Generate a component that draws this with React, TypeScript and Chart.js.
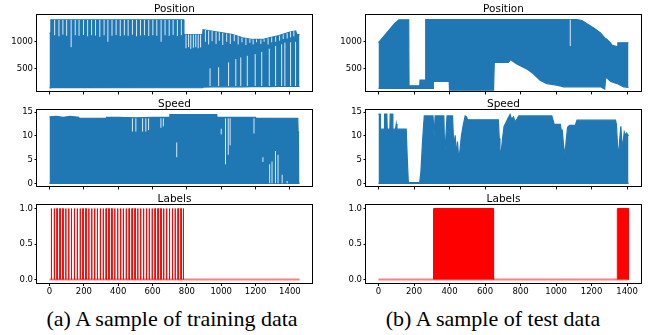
import React, { useEffect, useRef } from "react";
import { Chart, registerables } from "chart.js";

Chart.register(...registerables);

// ---------------- shared ----------------
const xTickValues = [0, 200, 400, 600, 800, 1000, 1200, 1400];
const trainLastIndex = 1456;
const testLastIndex = 1408;
const positionTicks = [500, 1000];
const speedTicks = [0, 5, 10, 15];
const labelTicks = [0, 0.5, 1];

// ---------------- (a) training sample ----------------
// Position: envelope (max / min) of the dense trace
const trainPosX = [0, 6, 8, 110, 112, 160, 162, 781, 783, 892, 894, 951, 1009, 1067, 1125, 1183, 1241, 1280, 1337, 1395, 1434, 1440, 1456];
const trainPosMax = [1160, 1160, 1404, 1404, 1404, 1404, 1404, 1404, 1133, 1133, 1223, 1193, 1163, 1133, 1072, 1042, 1042, 1072, 1114, 1175, 1199, 1133, 1133];
const trainPosMin = [150, 150, 155, 155, 155, 155, 155, 152, 152, 152, 165, 170, 170, 170, 170, 172, 172, 172, 175, 175, 175, 175, 175];
// Position: places the trace does not reach (white gaps inside the band)
const trainPosGapX = [30, 55, 78, 100, 126, 150, 172, 198, 222, 245, 268, 293, 318, 340, 364, 388, 412, 436, 458, 483, 507, 530, 553, 578, 602, 625, 650, 673, 697, 720, 745, 768,
  795, 810, 823, 838, 852, 866, 880,
  908, 927, 947, 970, 989, 1009, 1032, 1053, 1076, 1099, 1121, 1144, 1167, 1186, 1206, 1231, 1250, 1273, 1294, 1317, 1340, 1361, 1384, 1404, 1423,
  935, 985, 1043, 1085, 1114, 1152, 1198, 1236, 1280, 1317, 1352, 1371, 1404, 1433];
const trainPosGapLo = [1120, 1100, 1130, 1110, 900, 1120, 1110, 1125, 1100, 1120, 1115, 1090, 1120, 1000, 1110, 1125, 1105, 1120, 1110, 1130, 1100, 1115, 1120, 1105, 1120, 1110, 1000, 1120, 1110, 1125, 1105, 1120,
  880, 900, 870, 890, 900, 880, 895,
  1000, 950, 1010, 960, 1020, 940, 1000, 960, 1010, 950, 990, 940, 980, 950, 990, 960, 1000, 950, 990, 1000, 1020, 1050, 1060, 1080, 1100,
  185, 185, 185, 185, 185, 185, 185, 185, 185, 185, 185, 185, 185, 185];
const trainPosGapHi = [1404, 1404, 1404, 1404, 1404, 1404, 1404, 1404, 1404, 1404, 1404, 1404, 1404, 1404, 1404, 1404, 1404, 1404, 1404, 1404, 1404, 1404, 1404, 1404, 1404, 1404, 1404, 1404, 1404, 1404, 1404, 1404,
  1133, 1133, 1133, 1133, 1133, 1133, 1133,
  1216, 1205, 1195, 1183, 1173, 1163, 1151, 1139, 1130, 1100, 1075, 1062, 1050, 1042, 1042, 1042, 1045, 1065, 1080, 1095, 1110, 1135, 1160, 1183, 1195,
  512, 530, 620, 680, 711, 740, 771, 813, 873, 922, 952, 982, 990, 1000];

// Speed: upper envelope of the dense trace (lower bound is 0)
const trainSpdX = [0, 40, 80, 120, 170, 172, 230, 330, 332, 400, 500, 600, 699, 701, 800, 900, 974, 976, 1050, 1120, 1199, 1201, 1300, 1400, 1446, 1448, 1454, 1456];
const trainSpdMax = [14.0, 14.1, 13.9, 14.1, 13.9, 13.7, 13.7, 13.7, 13.9, 13.9, 13.8, 13.9, 13.9, 14.5, 14.5, 14.5, 14.5, 13.9, 13.9, 13.9, 13.9, 13.7, 13.7, 13.7, 13.7, 10.8, 10.8, 10.8];
const trainSpdGapX = [483, 503, 542, 561, 577, 649, 663, 741, 1000, 1025, 1041, 1052, 1191, 1243, 1282, 1296, 1316, 1331, 1355, 1384];
const trainSpdGapLo = [10.9, 10.9, 10.9, 10.9, 11.2, 11.7, 12.0, 5.5, 10.3, 4.0, 6.0, 8.0, 10.5, 4.5, 0, 0, 0, 0, 0, 0];
const trainSpdGapHi = [13.7, 13.7, 13.7, 13.7, 13.7, 13.7, 13.7, 8.6, 11.5, 13.7, 13.7, 13.7, 13.7, 5.5, 4.0, 4.6, 6.8, 6.0, 1.8, 0.5];

// Labels: intervals where the label is 1
const trainLabelOn = [10, 27, 43, 60, 77, 94, 111, 127, 144, 161, 178, 194, 211, 228, 245, 262, 278, 295, 312, 329, 345, 362, 379, 396, 413, 429, 446, 463, 480, 497, 513, 530, 547, 564, 580, 597, 614, 631, 648, 664, 681, 698, 715, 731, 748, 765, 779];
const trainLabelOff = [12, 29, 45, 62, 79, 96, 113, 129, 146, 163, 180, 196, 213, 230, 247, 264, 280, 297, 314, 331, 347, 364, 381, 398, 415, 431, 448, 465, 482, 499, 515, 532, 549, 566, 582, 599, 616, 633, 650, 666, 683, 700, 717, 733, 750, 767, 781];

// ---------------- (b) test sample ----------------
const testPosX = [0, 43, 90, 115, 170, 172, 232, 234, 264, 266, 307, 309, 398, 400, 648, 652, 731, 745, 779, 835, 873, 910, 948, 986, 1024, 1042, 1118, 1146, 1174, 1212, 1250, 1274, 1280, 1287, 1306, 1316, 1344, 1348, 1382, 1408];
const testPosMax = [982, 1151, 1331, 1404, 1404, 187, 187, 295, 295, 1406, 1406, 1406, 1406, 1406, 1406, 1406, 1406, 1406, 1406, 1406, 1406, 1406, 1406, 1406, 1406, 1406, 1406, 1392, 1331, 1253, 1163, 1070, 1060, 1042, 980, 934, 910, 982, 982, 982];
const testPosMin = [139, 139, 139, 139, 139, 139, 139, 139, 139, 139, 139, 271, 271, 108, 108, 620, 620, 669, 590, 500, 410, 289, 229, 211, 187, 169, 169, 169, 169, 169, 169, 127, 349, 330, 271, 260, 229, 225, 169, 157];
const testPosGapX = [1080];
const testPosGapLo = [920];
const testPosGapHi = [1406];

const testSpdX = [0, 9, 11, 32, 34, 47, 49, 64, 66, 79, 81, 96, 100, 104, 156, 162, 168, 232, 239, 247, 254, 258, 307, 313, 319, 368, 373, 379, 386, 417, 424, 432, 439, 445, 452, 460, 467, 477, 488, 496, 501, 675, 680, 684, 692, 699, 707, 718, 731, 741, 750, 760, 769, 778, 790, 976, 982, 990, 1024, 1029, 1035, 1042, 1050, 1057, 1065, 1076, 1108, 1118, 1335, 1340, 1346, 1352, 1357, 1365, 1370, 1376, 1384, 1391, 1397, 1408];
const testSpdMax = [14.6, 14.6, 11.4, 11.4, 14.6, 14.6, 11.4, 11.4, 14.6, 14.6, 11.4, 11.4, 12.5, 11.4, 11.4, 5.3, 0.15, 0.15, 2.5, 8.1, 12.2, 14.2, 14.2, 9.8, 14.2, 14.2, 6.0, 9.5, 14.2, 14.2, 7.6, 10.1, 5.6, 8.8, 4.9, 7.4, 10.0, 12.2, 14.2, 14.0, 13.4, 13.4, 9.5, 6.7, 7.0, 9.5, 12.0, 12.8, 13.8, 14.5, 13.5, 14.0, 13.0, 13.4, 14.2, 14.2, 13.4, 12.4, 12.4, 11.2, 11.2, 8.0, 5.9, 9.0, 11.8, 12.2, 12.2, 13.3, 13.3, 12.4, 8.0, 5.6, 8.5, 12.0, 9.0, 8.0, 10.8, 10.0, 10.6, 10.0];

const testLabelOn = [310, 1345];
const testLabelOff = [648, 1407];

// ---------------- styling ----------------
const BLUE = "#1f77b4";
const TICK_FONT = { family: "'DejaVu Sans', sans-serif", size: 8.5 };
const YW = 34;
const PT = 8;
const PR = 6;

const pts = (xs: number[], ys: number[]) => xs.map((x, i) => ({ x, y: ys[i] }));
const gapPts = (xs: number[], lo: number[], hi: number[]) =>
  xs.flatMap((x, i) => [{ x, y: lo[i] }, { x, y: hi[i] }, { x, y: null as any }]);
const stepPts = (on: number[], off: number[]) =>
  on.flatMap((s, i) => [{ x: s, y: 0 }, { x: s, y: 1 }, { x: off[i], y: 1 }, { x: off[i], y: 0 }, { x: off[i], y: null as any }]);

const framePlugin = {
  id: "frame",
  afterDraw(chart: any) {
    const { ctx, chartArea: a } = chart;
    ctx.save();
    ctx.strokeStyle = "#000";
    ctx.lineWidth = 1;
    ctx.strokeRect(Math.round(a.left) - 0.5, Math.round(a.top) - 0.5, Math.round(a.right - a.left) + 1, Math.round(a.bottom - a.top) + 1);
    ctx.restore();
  },
};

function positionSets(x: number[], mx: number[], mn: number[], gx: number[], glo: number[], ghi: number[]) {
  return [
    { data: gapPts(gx, glo, ghi), borderColor: "rgba(255,255,255,0.85)", borderWidth: 1, spanGaps: false, fill: false, order: 0 },
    { data: pts(x, mn), borderColor: BLUE, borderWidth: 1.2, fill: false, order: 2 },
    { data: pts(x, mx), borderColor: BLUE, borderWidth: 1.2, backgroundColor: BLUE, fill: 1, order: 1 },
  ];
}

function speedSets(x: number[], mx: number[], gx?: number[], glo?: number[], ghi?: number[]) {
  const sets: any[] = [];
  if (gx) sets.push({ data: gapPts(gx, glo!, ghi!), borderColor: "rgba(255,255,255,0.85)", borderWidth: 1, spanGaps: false, fill: false, order: 0 });
  sets.push({ data: pts(x, mx), borderColor: BLUE, borderWidth: 1.2, backgroundColor: BLUE, fill: "origin", order: 1 });
  sets.push({ data: [{ x: 0, y: 0 }, { x: x[x.length - 1], y: 0 }], borderColor: BLUE, borderWidth: 1.5, fill: false, order: 2 });
  return sets;
}

function labelSets(on: number[], off: number[], last: number) {
  return [
    { data: stepPts(on, off), borderColor: "#ff0000", borderWidth: 1, backgroundColor: "#ff0000", fill: "origin", spanGaps: false, order: 0 },
    { data: [{ x: 0, y: 0 }, { x: last, y: 0 }], borderColor: "rgba(255,0,0,0.5)", borderWidth: 2, fill: false, order: 1 },
  ];
}

type Spec = {
  left: number; top: number; width: number; height: number;
  last: number; yMin: number; yMax: number; yTicks: number[]; yFmt: (v: number) => string;
  xLabels: boolean; datasets: any[];
};

function Panel({ spec }: { spec: Spec }) {
  const ref = useRef<HTMLCanvasElement>(null);
  const XH = spec.xLabels ? 16 : 5;
  const cw = YW + spec.width + PR;
  const ch = PT + spec.height + XH;
  useEffect(() => {
    const chart = new Chart(ref.current as HTMLCanvasElement, {
      type: "line",
      data: { datasets: spec.datasets },
      options: {
        animation: false,
        responsive: false,
        devicePixelRatio: 1,
        layout: { padding: { top: PT, right: PR, left: 0, bottom: 0 } },
        plugins: { legend: { display: false }, tooltip: { enabled: false } },
        elements: { point: { radius: 0 }, line: { tension: 0 } },
        scales: {
          x: {
            type: "linear",
            min: -0.05 * spec.last,
            max: 1.05 * spec.last,
            afterBuildTicks: (s: any) => { s.ticks = xTickValues.map((v) => ({ value: v })); },
            afterFit: (s: any) => { s.height = XH; },
            ticks: { display: spec.xLabels, font: TICK_FONT, color: "#000", padding: 1, maxRotation: 0, autoSkip: false, callback: (v: any) => String(Math.round(Number(v))) },
            grid: { drawOnChartArea: false, drawTicks: true, tickLength: 3, color: "#000" },
            border: { display: false },
          },
          y: {
            type: "linear",
            min: spec.yMin,
            max: spec.yMax,
            afterBuildTicks: (s: any) => { s.ticks = spec.yTicks.map((v) => ({ value: v })); },
            afterFit: (s: any) => { s.width = YW; },
            ticks: { font: TICK_FONT, color: "#000", padding: 1.5, callback: (v: any) => spec.yFmt(Number(v)) },
            grid: { drawOnChartArea: false, drawTicks: true, tickLength: 2.5, color: "#000" },
            border: { display: false },
          },
        },
      } as any,
      plugins: [framePlugin],
    });
    return () => chart.destroy();
  }, []);
  return (
    <canvas
      ref={ref}
      width={cw}
      height={ch}
      style={{ position: "absolute", left: spec.left - YW, top: spec.top - PT, width: cw, height: ch }}
    />
  );
}

const LEFT_A = 37;
const LEFT_B = 366;
const PW = 275;
const PH = 78;
const ROWS = [15, 110, 205];
const TITLES = ["Position", "Speed", "Labels"];

const intFmt = (v: number) => String(v);
const oneDec = (v: number) => v.toFixed(1);

export default function App() {
  const specs: Spec[] = [
    { left: LEFT_A, top: ROWS[0], width: PW, height: PH, last: trainLastIndex, yMin: 85, yMax: 1493, yTicks: positionTicks, yFmt: intFmt, xLabels: false,
      datasets: positionSets(trainPosX, trainPosMax, trainPosMin, trainPosGapX, trainPosGapLo, trainPosGapHi) },
    { left: LEFT_B, top: ROWS[0], width: PW, height: PH, last: testLastIndex, yMin: 85, yMax: 1493, yTicks: positionTicks, yFmt: intFmt, xLabels: false,
      datasets: positionSets(testPosX, testPosMax, testPosMin, testPosGapX, testPosGapLo, testPosGapHi) },
    { left: LEFT_A, top: ROWS[1], width: PW, height: PH, last: trainLastIndex, yMin: -0.65, yMax: 15.45, yTicks: speedTicks, yFmt: intFmt, xLabels: false,
      datasets: speedSets(trainSpdX, trainSpdMax, trainSpdGapX, trainSpdGapLo, trainSpdGapHi) },
    { left: LEFT_B, top: ROWS[1], width: PW, height: PH, last: testLastIndex, yMin: -0.65, yMax: 15.45, yTicks: speedTicks, yFmt: intFmt, xLabels: false,
      datasets: speedSets(testSpdX, testSpdMax) },
    { left: LEFT_A, top: ROWS[2], width: PW, height: PH, last: trainLastIndex, yMin: -0.05, yMax: 1.05, yTicks: labelTicks, yFmt: oneDec, xLabels: true,
      datasets: labelSets(trainLabelOn, trainLabelOff, trainLastIndex) },
    { left: LEFT_B, top: ROWS[2], width: PW, height: PH, last: testLastIndex, yMin: -0.05, yMax: 1.05, yTicks: labelTicks, yFmt: oneDec, xLabels: true,
      datasets: labelSets(testLabelOn, testLabelOff, testLastIndex) },
  ];
  const titleStyle = (left: number, top: number): React.CSSProperties => ({
    position: "absolute", left, top: top - 11.6, width: PW, textAlign: "center",
    fontFamily: "'DejaVu Sans', sans-serif", fontSize: 10.5, lineHeight: "10.5px", color: "#000", whiteSpace: "nowrap",
  });
  const capStyle = (center: number): React.CSSProperties => ({
    position: "absolute", left: center - 160, width: 320, textAlign: "center", top: 308, fontFamily: "'Liberation Serif', 'Times New Roman', serif",
    fontSize: 22, lineHeight: "22px", color: "#000", whiteSpace: "nowrap",
  });
  return (
    <div style={{ position: "fixed", left: 0, top: 0, width: 654, height: 335, background: "#fff", overflow: "hidden" }}>
      {specs.map((s, i) => <Panel key={i} spec={s} />)}
      {ROWS.map((r, i) => (
        <React.Fragment key={i}>
          <div style={titleStyle(LEFT_A, r)}>{TITLES[i]}</div>
          <div style={titleStyle(LEFT_B, r)}>{TITLES[i]}</div>
        </React.Fragment>
      ))}
      <div style={capStyle(172)}>(a) A sample of training data</div>
      <div style={capStyle(493)}>(b) A sample of test data</div>
    </div>
  );
}
